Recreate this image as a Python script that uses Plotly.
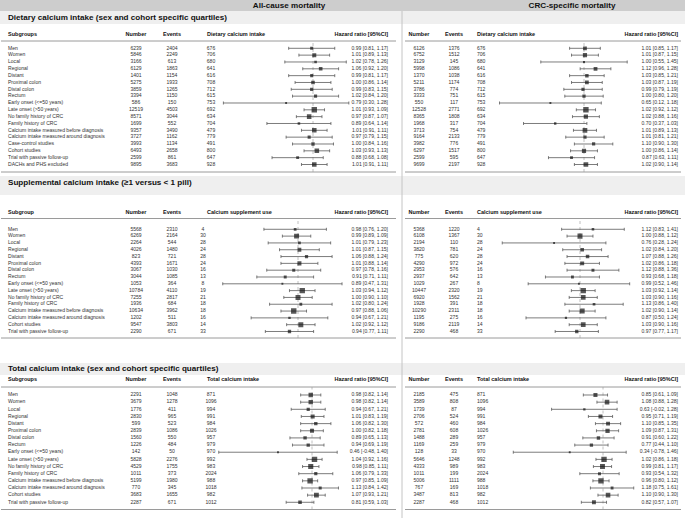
import plotly.graph_objects as go

# ---------------- data ----------------
subgroups_diet = ["Men", "Women", "Local", "Regional", "Distant", "Proximal colon", "Distal colon", "Rectum",
                  "Early onset (&lt;=50 years)", "Late onset (&gt;50 years)", "No family history of CRC",
                  "Family history of CRC", "Calcium intake measured before diagnosis",
                  "Calcium intake measured around diagnosis", "Case-control studies", "Cohort studies",
                  "Trial with passive follow-up", "DACHs and PHS excluded"]
subgroups_other = ["Men", "Women", "Local", "Regional", "Distant", "Proximal colon", "Distal colon", "Rectum",
                   "Early onset (&lt;=50 years)", "Late onset (&gt;50 years)", "No family history of CRC",
                   "Family history of CRC", "Calcium intake measured before diagnosis",
                   "Calcium intake measured around diagnosis", "Cohort studies", "Trial with passive follow-up"]

# Section 1: dietary calcium intake
diet_intake = [676, 706, 680, 641, 616, 708, 712, 615, 753, 692, 634, 704, 479, 779, 491, 800, 647, 928]
diet_all_number = [6239, 5846, 3166, 6129, 1401, 5275, 3859, 3394, 586, 12519, 8571, 1699, 9357, 3727, 3993, 6493, 2599, 9895]
diet_all_events = [2404, 2249, 613, 1863, 1154, 1933, 1265, 1150, 150, 4503, 3044, 552, 3490, 1162, 1134, 2658, 861, 3683]
diet_all_hr = [0.99, 1.01, 1.02, 1.06, 0.99, 1.00, 0.99, 1.02, 0.79, 1.01, 0.97, 0.89, 1.01, 0.97, 1.00, 1.03, 0.88, 1.01]
diet_all_lo = [0.81, 0.89, 0.78, 0.92, 0.81, 0.86, 0.83, 0.84, 0.30, 0.93, 0.87, 0.64, 0.91, 0.79, 0.84, 0.93, 0.68, 0.91]
diet_all_hi = [1.17, 1.13, 1.26, 1.20, 1.17, 1.14, 1.15, 1.20, 1.28, 1.09, 1.07, 1.14, 1.11, 1.15, 1.16, 1.13, 1.08, 1.11]
diet_crc_number = [6126, 6752, 3129, 5998, 1370, 5211, 3786, 3333, 550, 12528, 8365, 1968, 3713, 9164, 3982, 6297, 2599, 9699]
diet_crc_events = [1376, 1512, 145, 1086, 1038, 1174, 774, 751, 117, 2771, 1808, 317, 754, 2133, 776, 1517, 595, 2197]
diet_crc_hr = [1.01, 1.01, 1.00, 1.12, 1.03, 1.03, 0.99, 1.00, 0.65, 1.02, 1.02, 0.70, 1.01, 1.01, 1.10, 1.00, 0.87, 1.02]
diet_crc_lo = [0.85, 0.87, 0.55, 0.96, 0.85, 0.87, 0.79, 0.80, 0.12, 0.92, 0.88, 0.37, 0.89, 0.81, 0.90, 0.86, 0.63, 0.90]
diet_crc_hi = [1.17, 1.15, 1.45, 1.28, 1.21, 1.19, 1.19, 1.20, 1.18, 1.12, 1.16, 1.03, 1.13, 1.21, 1.30, 1.14, 1.11, 1.14]

# Section 2: supplemental calcium intake
supp_use = [4, 30, 28, 24, 28, 24, 16, 13, 8, 19, 21, 18, 18, 16, 14, 33]
supp_all_number = [5568, 6269, 2264, 4026, 823, 4393, 3067, 3044, 1053, 10784, 7255, 1936, 10634, 1202, 9547, 2290]
supp_all_events = [2310, 2164, 544, 1480, 721, 1671, 1030, 1085, 364, 4110, 2817, 684, 3962, 511, 3803, 671]
supp_all_hr = [0.98, 0.99, 1.01, 1.01, 1.06, 1.01, 0.97, 0.91, 0.89, 1.03, 1.00, 1.02, 0.97, 0.94, 1.02, 0.94]
supp_all_lo = [0.76, 0.89, 0.79, 0.87, 0.88, 0.88, 0.78, 0.71, 0.47, 0.94, 0.90, 0.80, 0.88, 0.67, 0.92, 0.77]
supp_all_hi = [1.20, 1.09, 1.23, 1.15, 1.24, 1.14, 1.16, 1.11, 1.31, 1.12, 1.10, 1.24, 1.06, 1.21, 1.12, 1.11]
supp_crc_number = [5368, 6108, 2194, 3820, 775, 4290, 2953, 2937, 1029, 10447, 6920, 1928, 10290, 1195, 9186, 2290]
supp_crc_events = [1220, 1367, 110, 781, 620, 972, 576, 642, 267, 2320, 1562, 391, 2311, 275, 2119, 468]
supp_crc_hr = [1.12, 1.00, 0.76, 1.02, 1.07, 1.02, 1.12, 0.93, 0.99, 1.03, 1.03, 1.13, 1.02, 0.87, 1.03, 0.97]
supp_crc_lo = [0.83, 0.88, 0.28, 0.84, 0.88, 0.86, 0.88, 0.68, 0.52, 0.92, 0.90, 0.86, 0.90, 0.50, 0.90, 0.77]
supp_crc_hi = [1.41, 1.12, 1.24, 1.20, 1.26, 1.18, 1.36, 1.18, 1.46, 1.14, 1.16, 1.40, 1.14, 1.24, 1.16, 1.17]

# Section 3: total calcium intake
tot_intake = [871, 1096, 994, 991, 984, 1026, 957, 979, 970, 992, 983, 2024, 988, 1018, 982, 1012]
tot_all_number = [2291, 3679, 1776, 2830, 599, 2839, 1560, 1226, 142, 5828, 4529, 1011, 5199, 770, 3683, 2287]
tot_all_events = [1048, 1278, 411, 965, 523, 1086, 550, 484, 50, 2276, 1755, 373, 1980, 345, 1655, 671]
tot_all_hr = [0.98, 0.98, 0.94, 1.01, 1.06, 1.00, 0.89, 0.94, 0.46, 1.04, 0.98, 1.06, 0.97, 1.13, 1.07, 0.81]
tot_all_lo = [0.82, 0.82, 0.67, 0.83, 0.82, 0.82, 0.65, 0.69, -0.48, 0.92, 0.85, 0.79, 0.85, 0.84, 0.93, 0.59]
tot_all_hi = [1.14, 1.14, 1.21, 1.19, 1.30, 1.18, 1.13, 1.19, 1.40, 1.16, 1.11, 1.33, 1.09, 1.42, 1.21, 1.03]
tot_crc_number = [2185, 3589, 1739, 2706, 572, 2781, 1488, 1169, 128, 5646, 4333, 1011, 5006, 767, 3487, 2287]
tot_crc_events = [475, 808, 87, 524, 460, 608, 289, 259, 33, 1248, 989, 199, 1111, 169, 813, 468]
tot_crc_hr = [0.85, 1.08, 0.63, 0.95, 1.10, 1.09, 0.91, 0.77, 0.34, 1.02, 0.99, 0.93, 0.96, 1.18, 1.10, 0.82]
tot_crc_lo = [0.61, 0.88, -0.02, 0.71, 0.85, 0.87, 0.60, 0.44, -0.78, 0.86, 0.81, 0.54, 0.80, 0.75, 0.90, 0.57]
tot_crc_hi = [1.09, 1.28, 1.28, 1.19, 1.35, 1.31, 1.22, 1.10, 1.46, 1.18, 1.17, 1.32, 1.12, 1.61, 1.30, 1.07]

outcome_titles = ["All-cause mortality", "CRC-specific mortality"]
section_titles = ["Dietary calcium intake (sex and cohort specific quartiles)",
                  "Supplemental calcium intake (\u22651 versus &lt; 1 pill)",
                  "Total calcium intake (sex and cohort specific quartiles)"]
subgroup_heads = ["Subgroups", "Subgroup", "Subgroups"]
third_heads = ["Dietary calcium intake", "Calcium supplement use", "Total calcium intake"]
hr_head = "Hazard ratio [95%CI]"

# ---------------- layout (pixels) ----------------
W, H = 685, 518
FONT = "Liberation Sans, Arial, sans-serif"
ROW_C = "#333333"
HEAD_C = "#111111"
LINE_C = "#9a9a9a"
TITLE_SIZE = 8.1
HEAD_SIZE = 5.5
ROW_SIZE = 5.05


def xp(px):
    return px / W


def yp(py):
    return 1 - py / H


sections = [
    dict(labels=subgroups_diet, third=diet_intake,
         sides=[dict(n=diet_all_number, e=diet_all_events, hr=diet_all_hr, lo=diet_all_lo, hi=diet_all_hi),
                dict(n=diet_crc_number, e=diet_crc_events, hr=diet_crc_hr, lo=diet_crc_lo, hi=diet_crc_hi)],
         band=(11, 24), title_y=17.5, head_y=35, headline=41, bottom=172, rows=(48.3, 164.5),
         third_L=211, ax=[(220, 350, 313, 128), (497, 630, 584, 96)]),
    dict(labels=subgroups_other, third=supp_use,
         sides=[dict(n=supp_all_number, e=supp_all_events, hr=supp_all_hr, lo=supp_all_lo, hi=supp_all_hi),
                dict(n=supp_crc_number, e=supp_crc_events, hr=supp_crc_hr, lo=supp_crc_lo, hi=supp_crc_hi)],
         band=(176, 195), title_y=183, head_y=213, headline=218.5, bottom=338, rows=(229.3, 331.5),
         third_L=203, ax=[(220, 345, 298, 142), (500, 634, 580, 108)]),
    dict(labels=subgroups_other, third=tot_intake,
         sides=[dict(n=tot_all_number, e=tot_all_events, hr=tot_all_hr, lo=tot_all_lo, hi=tot_all_hi),
                dict(n=tot_crc_number, e=tot_crc_events, hr=tot_crc_hr, lo=tot_crc_lo, hi=tot_crc_hi)],
         band=(363, 375), title_y=369, head_y=380, headline=387, bottom=509.5, rows=(395, 502.3),
         third_L=211, ax=[(218, 340, 312, 63), (510, 636, 603, 50.4)]),
]

colL = dict(sub=8, num=136, ev=172, hr=388, third_head=207, line=(1, 396))
colR = dict(num=419, ev=454, third=477, hr=678, third_head=477, line=(405, 681))

fig = go.Figure()
shapes = []
layout_axes = {}
text_groups = {}

POS = {"left": "middle right", "center": "middle center", "right": "middle left"}


def text(x, y, s, yname="y4", size=ROW_SIZE, color=ROW_C, anchor="left", bold=False):
    if bold:
        s = "<b>" + s + "</b>"
    key = (yname, anchor, size, color)
    g = text_groups.setdefault(key, dict(x=[], y=[], t=[]))
    g["x"].append(x)
    g["y"].append(y)
    g["t"].append(s)


def hline(y, x0, x1, color=LINE_C, width=1):
    shapes.append(dict(type="line", xref="paper", yref="paper", x0=xp(x0), x1=xp(x1),
                       y0=yp(y), y1=yp(y), line=dict(color=color, width=width)))


def rect(x0, y0, x1, y1, color):
    shapes.append(dict(type="rect", xref="paper", yref="paper", x0=xp(x0), x1=xp(x1),
                       y0=yp(y1), y1=yp(y0), fillcolor=color, line=dict(width=0), layer="below"))


# pixel-unit overlay axes used for text placement
layout_axes["xaxis7"] = dict(domain=[0, 1], range=[0, W], visible=False, fixedrange=True, anchor="y4")
layout_axes["yaxis4"] = dict(domain=[0, 1], range=[H, 0], visible=False, fixedrange=True, anchor="x7")

# top header band
rect(0, 0, W, 11, "#cdcdcd")
text(289, 5.8, outcome_titles[0], size=TITLE_SIZE, color=HEAD_C, anchor="center", bold=True)
text(572, 5.8, outcome_titles[1], size=TITLE_SIZE, color=HEAD_C, anchor="center", bold=True)

# vertical separator between panels
shapes.append(dict(type="line", xref="paper", yref="paper", x0=xp(402), x1=xp(402), y0=yp(11), y1=yp(518),
                   line=dict(color="#c4c4c4", width=1)))

for k, sec in enumerate(sections):
    ysuf = "" if k == 0 else str(k + 1)
    yname = "y" + ysuf
    n_rows = len(sec["labels"])
    first, last = sec["rows"]
    step = (last - first) / (n_rows - 1)
    layout_axes["yaxis" + ysuf] = dict(domain=[yp(last + step), yp(first - step)], range=[n_rows, -1],
                                       visible=False, fixedrange=True)
    rect(0, sec["band"][0], W, sec["band"][1], "#efefef")
    text(8, sec["title_y"], section_titles[k], size=TITLE_SIZE, color=HEAD_C, bold=True)
    text(colL["sub"], sec["head_y"], subgroup_heads[k], size=HEAD_SIZE, color=HEAD_C, bold=True)
    for col in (colL, colR):
        text(col["num"], sec["head_y"], "Number", size=HEAD_SIZE, color=HEAD_C, anchor="center", bold=True)
        text(col["ev"], sec["head_y"], "Events", size=HEAD_SIZE, color=HEAD_C, anchor="center", bold=True)
        text(col["third_head"], sec["head_y"], third_heads[k], size=HEAD_SIZE, color=HEAD_C, bold=True)
        text(col["hr"], sec["head_y"], hr_head, size=HEAD_SIZE, color=HEAD_C, anchor="right", bold=True)
        hline(sec["headline"], *col["line"])
        hline(sec["bottom"], *col["line"])

    for i, lab in enumerate(sec["labels"]):
        text(colL["sub"], i, lab, yname=yname)

    for side in (0, 1):
        col = colL if side == 0 else colR
        d = sec["sides"][side]
        j = 2 * k + side + 1
        xsuf = "" if j == 1 else str(j)
        a_px, b_px, c1, scale = sec["ax"][side]
        layout_axes["xaxis" + xsuf] = dict(domain=[xp(a_px), xp(b_px)],
                                           range=[1 - (c1 - a_px) / scale, 1 + (b_px - c1) / scale],
                                           visible=False, fixedrange=True, anchor=yname)
        for i in range(n_rows):
            text(col["num"], i, str(d["n"][i]), yname=yname, anchor="center")
            text(col["ev"], i, str(d["e"][i]), yname=yname, anchor="center")
            if side == 0:
                text(sec["third_L"], i, str(sec["third"][i]), yname=yname, anchor="center")
            else:
                text(col["third"], i, str(sec["third"][i]), yname=yname, anchor="left")
            text(col["hr"], i, f"{d['hr'][i]:.2f} [{d['lo'][i]:.2f}, {d['hi'][i]:.2f}]",
                 yname=yname, anchor="right")
        shapes.append(dict(type="line", xref="x" + xsuf, yref="paper", x0=1, x1=1,
                           y0=yp(sec["bottom"]), y1=yp(sec["headline"]),
                           line=dict(color="#b0b0b0", width=0.8, dash="dot"), layer="below"))
        inv = [1.0 / (h - l) for h, l in zip(d["hi"], d["lo"])]
        lo_i, hi_i = min(inv), max(inv)
        sizes = [1.9 + 3.5 * (v - lo_i) / (hi_i - lo_i) for v in inv]
        fig.add_trace(go.Scatter(
            x=d["hr"], y=list(range(n_rows)), xaxis="x" + xsuf, yaxis=yname, mode="markers",
            marker=dict(symbol="square", size=sizes, color="#111111", line=dict(width=0)),
            error_x=dict(type="data", symmetric=False,
                         array=[h - m for h, m in zip(d["hi"], d["hr"])],
                         arrayminus=[m - l for m, l in zip(d["hr"], d["lo"])],
                         color="#5a5a5a", thickness=0.8, width=1.5),
            hoverinfo="skip", showlegend=False))

for (yname, anchor, size, color), g in text_groups.items():
    fig.add_trace(go.Scatter(
        x=g["x"], y=g["y"], text=g["t"], mode="text", xaxis="x7", yaxis=yname,
        textposition=POS[anchor], textfont=dict(family=FONT, size=size, color=color),
        hoverinfo="skip", showlegend=False, cliponaxis=False))

fig.update_layout(width=W, height=H, margin=dict(l=0, r=0, t=0, b=0),
                  paper_bgcolor="white", plot_bgcolor="rgba(0,0,0,0)",
                  showlegend=False, shapes=shapes, **layout_axes)
fig.write_html("out.html", config={"displayModeBar": False},
               post_script="document.body.style.margin='0px';document.body.style.padding='0px';")
